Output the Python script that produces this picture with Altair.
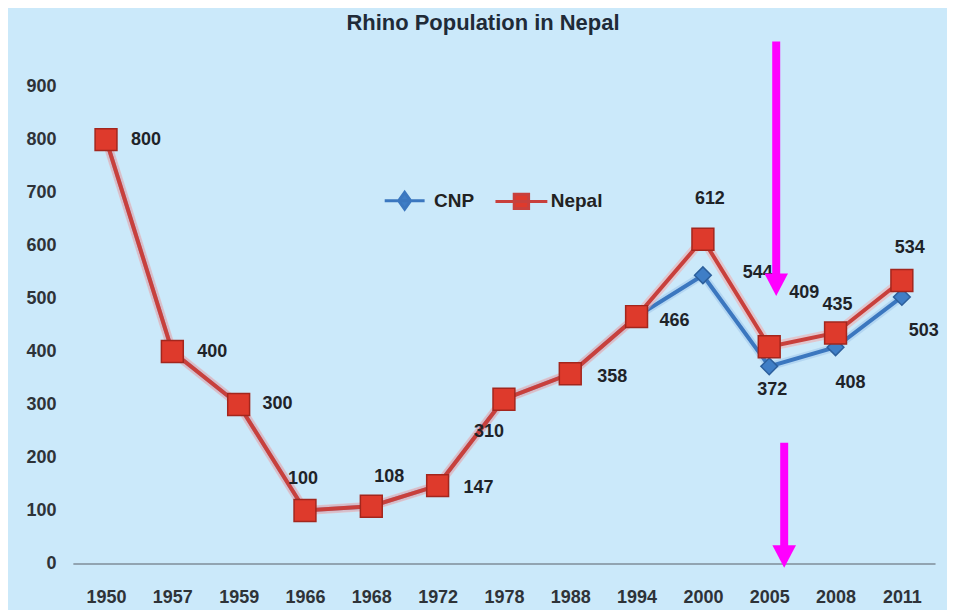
import altair as alt
import pandas as pd

# ---- data ----
years = ["1950", "1957", "1959", "1966", "1968", "1972", "1978",
         "1988", "1994", "2000", "2005", "2008", "2011"]
nepal = [800, 400, 300, 100, 108, 147, 310, 358, 466, 612, 409, 435, 534]
cnp = [800, 400, 300, 100, 108, 147, 310, 358, 466, 544, 372, 408, 503]
series_names = ["CNP", "Nepal"]
y_ticks = [0, 100, 200, 300, 400, 500, 600, 700, 800, 900]

# annotation arrows (data units on the value axis)
arrow_year = ["2005", "2005"]
arrow_start = [985, 228]
arrow_head = [546, 33]
arrow_tip = [505, -8]

rows = []
for y, v in zip(years, cnp):
    rows.append({"year": y, "series": "CNP", "value": v})
for y, v in zip(years, nepal):
    rows.append({"year": y, "series": "Nepal", "value": v})
df = pd.DataFrame(rows)
arrows = pd.DataFrame({"year": arrow_year, "start": arrow_start,
                       "head": arrow_head, "tip": arrow_tip})

FONT = "Liberation Sans, Arial, sans-serif"
BLUE_LINE, BLUE_FILL, BLUE_EDGE = "#3b77bf", "#3f7ec6", "#2c5f9c"
RED_LINE, RED_FILL, RED_EDGE = "#c8403c", "#de3a2c", "#a3261d"

xscale = alt.Scale(type="point", domain=years, padding=0.5)
xenc = alt.X("year:N", sort=years, title=None, scale=xscale,
             axis=alt.Axis(labelAngle=0, ticks=False, domainColor="#7f8d98",
                           domainWidth=1.5, labelPadding=25, labelFont=FONT,
                           labelFontSize=18, labelFontWeight="bold",
                           labelColor="#2e3338"))
yscale = alt.Scale(domain=[0, 985], nice=False)
yenc = alt.Y("value:Q", scale=yscale, title=None,
             axis=alt.Axis(values=y_ticks, domain=False,
                           ticks=False, grid=False, labelPadding=17,
                           labelFont=FONT, labelFontSize=18,
                           labelFontWeight="bold", labelColor="#2e3338"))

base = alt.Chart(df)
is_cnp = alt.datum.series == "CNP"
is_nep = alt.datum.series == "Nepal"

cnp_glow = base.transform_filter(is_cnp).mark_line(
    color="#9cc3ea", strokeWidth=8, opacity=0.5).encode(x=xenc, y=yenc)
cnp_line = base.transform_filter(is_cnp).mark_line(
    color=BLUE_LINE, strokeWidth=4).encode(x=xenc, y=yenc)
cnp_pts = base.transform_filter(is_cnp).mark_point(
    shape="diamond", size=280, filled=True, opacity=1, fill=BLUE_FILL,
    stroke=BLUE_EDGE, strokeWidth=1.5).encode(x=xenc, y=yenc)
nep_glow = base.transform_filter(is_nep).mark_line(
    color="#f2a9a9", strokeWidth=9, opacity=0.55).encode(x=xenc, y=yenc)
nep_line = base.transform_filter(is_nep).mark_line(
    color=RED_LINE, strokeWidth=4).encode(x=xenc, y=yenc)
nep_pts = base.transform_filter(is_nep).mark_point(
    shape="square", size=480, filled=True, opacity=1, fill=RED_FILL,
    stroke=RED_EDGE, strokeWidth=1.5).encode(x=xenc, y=yenc)

# legend-only layer (no rows drawn)
legend_paths = ["M-1,0H1M0,-0.42L0.3,0L0,0.42L-0.3,0Z",
                "M-1.3,0H1.3M-0.36,-0.36H0.36V0.36H-0.36Z"]
legend_layer = base.transform_filter("datum.value < 0").mark_point(
    filled=True, opacity=1, strokeWidth=3).encode(
    x=xenc, y=yenc,
    fill=alt.Fill("series:N", scale=alt.Scale(domain=series_names,
                                              range=[BLUE_FILL, RED_FILL]),
                  legend=alt.Legend(orient="none", legendX=311, legendY=138,
                                    direction="horizontal", title=None,
                                    padding=0, symbolSize=1600,
                                    symbolStrokeWidth=3, labelOffset=8,
                                    columnPadding=14, labelFont=FONT,
                                    labelFontSize=19, labelFontWeight="bold",
                                    labelColor="#222222")),
    stroke=alt.Stroke("series:N", scale=alt.Scale(domain=series_names,
                                                  range=[BLUE_LINE, RED_LINE])),
    shape=alt.Shape("series:N", scale=alt.Scale(domain=series_names,
                                                range=legend_paths)),
)

# label placement (pixels) per point
nepal_offsets = {
    "1950": (40, 0), "1957": (40, 0), "1959": (39, 0), "1966": (-2, -32),
    "1968": (18, -29), "1972": (41, 2), "1978": (-15, 33), "1988": (42, 3),
    "1994": (38, 4), "2000": (7, -40), "2005": (35, -54), "2008": (2, -28),
    "2011": (8, -33),
}
cnp_offsets = {"2000": (55, -2), "2005": (3, 24), "2008": (15, 36), "2011": (22, 34)}

label_layers = []
for series, offs in (("Nepal", nepal_offsets), ("CNP", cnp_offsets)):
    for yr, (dx, dy) in offs.items():
        label_layers.append(
            base.transform_filter(
                (alt.datum.series == series) & (alt.datum.year == yr)
            ).mark_text(dx=dx, dy=dy, font=FONT, fontSize=18, fontWeight="bold",
                        color="#1e2328", align="center",
                        baseline="middle").encode(
                x=xenc, y=yenc, text="value:Q"))

arrow_layers = []
for i, off in enumerate([7, 15]):
    a = alt.Chart(arrows.iloc[[i]])
    ax = alt.X("year:N", sort=years, scale=xscale)
    arrow_layers.append(a.mark_rule(color="#ff00ff", strokeWidth=8, xOffset=off,
                                    strokeCap="butt").encode(
        x=ax, y=alt.Y("start:Q", scale=yscale), y2="head:Q"))
    arrow_layers.append(a.mark_point(shape="M-1,-1.9L1,-1.9L0,0Z", size=560,
                                     filled=True, color="#ff00ff", opacity=1,
                                     xOffset=off).encode(
        x=ax, y=alt.Y("tip:Q", scale=yscale)))

chart = alt.layer(
    cnp_glow, cnp_line, cnp_pts, nep_glow, nep_line, nep_pts, legend_layer,
    *label_layers, *arrow_layers
).properties(
    width=864, height=523,
    padding={"left": 17, "top": 3, "right": 8, "bottom": 3},
    background="#cbe9fa",
    title=alt.TitleParams("Rhino Population in Nepal", font=FONT, fontSize=22,
                          fontWeight="bold", color="#1f2b38", offset=3,
                          dx=-21, anchor="middle"),
).configure_view(stroke=None)

chart.save("out.html", embed_options={"renderer": "svg", "actions": False})
